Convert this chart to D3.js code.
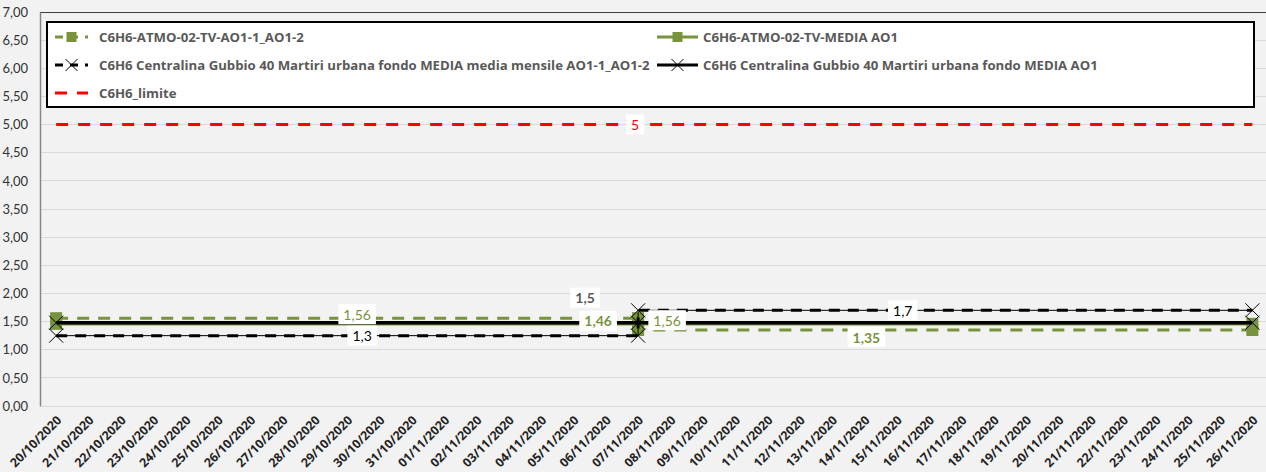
<!DOCTYPE html>
<html><head><meta charset="utf-8">
<script src="https://cdn.jsdelivr.net/npm/d3@7/dist/d3.min.js"></script>
<style>
html,body{margin:0;padding:0;background:#f2f2f2;overflow:hidden;}
svg{display:block;font-family:Lato, "Open Sans", sans-serif;}
</style></head>
<body>
<svg id="chart" width="1266" height="472"></svg>
<script>
// ---------- DATA ----------
const categories = ["20/10/2020","21/10/2020","22/10/2020","23/10/2020","24/10/2020","25/10/2020","26/10/2020","27/10/2020","28/10/2020","29/10/2020","30/10/2020","31/10/2020","01/11/2020","02/11/2020","03/11/2020","04/11/2020","05/11/2020","06/11/2020","07/11/2020","08/11/2020","09/11/2020","10/11/2020","11/11/2020","12/11/2020","13/11/2020","14/11/2020","15/11/2020","16/11/2020","17/11/2020","18/11/2020","19/11/2020","20/11/2020","21/11/2020","22/11/2020","23/11/2020","24/11/2020","25/11/2020","26/11/2020"];
const yTicks = [0,0.5,1,1.5,2,2.5,3,3.5,4,4.5,5,5.5,6,6.5,7];

const seriesNames = [
  "C6H6-ATMO-02-TV-AO1-1_AO1-2",
  "C6H6-ATMO-02-TV-MEDIA AO1",
  "C6H6 Centralina Gubbio 40 Martiri urbana fondo MEDIA media mensile AO1-1_AO1-2",
  "C6H6 Centralina Gubbio 40 Martiri urbana fondo MEDIA AO1",
  "C6H6_limite"
];
const ao1Dates   = ["20/10/2020","07/11/2020","07/11/2020","26/11/2020"];
const ao1Values  = [1.56, 1.56, 1.35, 1.35];
const mediaDates = ["20/10/2020","07/11/2020","26/11/2020"];
const mediaValues= [1.46, 1.46, 1.46];
const gubMonthDates  = ["20/10/2020","07/11/2020","07/11/2020","26/11/2020"];
const gubMonthValues = [1.25, 1.25, 1.70, 1.70];
const gubMediaDates  = ["20/10/2020","07/11/2020","26/11/2020"];
const gubMediaValues = [1.48, 1.48, 1.48];
const limitDates  = ["20/10/2020","26/11/2020"];
const limitValues = [5, 5];

const labelTexts  = ["1,56","1,3","1,5","1,46","1,56","1,7","1,35","5"];
const labelDates  = ["29/10/2020","29/10/2020","07/11/2020","07/11/2020","07/11/2020","15/11/2020","14/11/2020","07/11/2020"];
const labelValues = [1.56, 1.25, 1.48, 1.46, 1.56, 1.70, 1.35, 5];

// ---------- STYLE ----------
const GREEN = "#77933c", RED = "#ff0000", BLACK = "#000000", TXT = "#595959";
const labelOffsets = [[10,-4],[15,0],[-53,-25],[-40,-3],[29,2],[6,0],[2,7],[-3,0]];
const labelBold = [false,false,true,true,false,false,true,false];
const labelColor = [GREEN,"#000",TXT,GREEN,GREEN,"#000",GREEN,RED];

const svg = d3.select("#chart");
const W = 1266, H = 472;
const plotL = 40, plotTop = 12, plotBot = 406;
const bandW = 32.33;

const x = d3.scaleBand().domain(categories).range([plotL, plotL + bandW*categories.length]).padding(0);
const xc = d => x(d) + x.bandwidth()/2;
const y = d3.scaleLinear().domain([0,7]).range([plotBot, plotTop]);

// gridlines
svg.append("g").selectAll("line").data(yTicks).join("line")
  .attr("x1", plotL).attr("x2", W)
  .attr("y1", d => y(d)).attr("y2", d => y(d))
  .attr("stroke", d => d === 7 ? "#404040" : "#d9d9d9")
  .attr("stroke-width", 1)
  .attr("shape-rendering","crispEdges");

// y axis
const yAxis = d3.axisLeft(y).tickValues(yTicks).tickSize(0).tickPadding(12)
  .tickFormat(d => d3.format(".2f")(d).replace(".", ","));
const gy = svg.append("g").attr("transform", `translate(${plotL},0)`).call(yAxis);
gy.select(".domain").attr("stroke", "#868686").attr("stroke-width", 1.5);
gy.selectAll("text").attr("font-size", 13).attr("fill", "#333").attr("font-family","Lato, sans-serif");

// x axis
const xAxis = d3.axisBottom(x).tickSize(0).tickFormat(d => d);
const gx = svg.append("g").attr("transform", `translate(0,${plotBot})`).call(xAxis);
gx.select(".domain").attr("stroke", "#d9d9d9");
gx.selectAll("text")
  .attr("font-size", 12.3).attr("font-weight", "bold").attr("fill", "#222")
  .attr("font-family", "'Open Sans', sans-serif")
  .attr("text-anchor", "end")
  .attr("transform", "translate(6,15) rotate(-45)")
  .attr("dy", "0").attr("y", 0).attr("x", 0);

// series
const pts = (ds, vs) => ds.map((d,i) => [xc(d), y(vs[i])]);
const line = d3.line();

function drawLine(ds, vs, color, width, dash) {
  svg.append("path").attr("d", line(pts(ds, vs)))
    .attr("fill","none").attr("stroke", color).attr("stroke-width", width)
    .attr("stroke-dasharray", dash || null);
}
function drawSquares(ds, vs, color) {
  svg.append("g").selectAll("rect").data(pts(ds, vs)).join("rect")
    .attr("x", p => p[0]-6).attr("y", p => p[1]-6).attr("width", 12).attr("height", 12)
    .attr("fill", color);
}
function drawX(ds, vs) {
  const g = svg.append("g");
  pts(ds, vs).forEach(p => {
    g.append("path").attr("d", `M${p[0]-7},${p[1]-7}L${p[0]+7},${p[1]+7}M${p[0]-7},${p[1]+7}L${p[0]+7},${p[1]-7}`)
      .attr("stroke", BLACK).attr("stroke-width", 1);
  });
}

drawLine(ao1Dates, ao1Values, GREEN, 3, "12,9");
drawSquares(ao1Dates, ao1Values, GREEN);
drawLine(mediaDates, mediaValues, GREEN, 3.5);
drawSquares(mediaDates, mediaValues, GREEN);
drawLine(gubMonthDates, gubMonthValues, BLACK, 1);
drawLine(gubMonthDates, gubMonthValues, BLACK, 3, "11,8");
drawX(gubMonthDates, gubMonthValues);
drawLine(gubMediaDates, gubMediaValues, BLACK, 3.5);
drawX(gubMediaDates, gubMediaValues);
drawLine(limitDates, limitValues, RED, 3, "12,10");

// data labels
labelTexts.forEach((t, i) => {
  const cx = xc(labelDates[i]) + labelOffsets[i][0];
  const cy = y(labelValues[i]) + labelOffsets[i][1];
  const g = svg.append("g");
  const txt = g.append("text").attr("x", cx).attr("y", cy)
    .attr("text-anchor","middle").attr("dominant-baseline","central")
    .attr("font-size", 14).attr("font-weight", labelBold[i] ? "bold" : "normal")
    .attr("fill", labelColor[i]).text(t);
  const bb = txt.node().getBBox();
  g.insert("rect", "text").attr("x", bb.x-5).attr("y", cy-10).attr("width", bb.width+10).attr("height", 20).attr("fill","#fff");
});

// legend
const lg = svg.append("g");
lg.append("rect").attr("x", 47).attr("y", 22).attr("width", 1207).attr("height", 85)
  .attr("fill","#fff").attr("stroke","#000").attr("stroke-width", 2);
const legendItems = [
  {name: seriesNames[0], col: 0, row: 0, color: GREEN, dash: "8,7", marker: "sq"},
  {name: seriesNames[1], col: 1, row: 0, color: GREEN, dash: null, marker: "sq"},
  {name: seriesNames[2], col: 0, row: 1, color: BLACK, dash: "8,7", marker: "x"},
  {name: seriesNames[3], col: 1, row: 1, color: BLACK, dash: null, marker: "x"},
  {name: seriesNames[4], col: 0, row: 2, color: RED, dash: "12,10", marker: null}
];
const colX = [55, 657], rowY = [37, 65, 93];
legendItems.forEach(it => {
  const x0 = colX[it.col], yy = rowY[it.row];
  const len = it.col === 0 ? 33 : 41;
  lg.append("line").attr("x1", x0).attr("x2", x0+len).attr("y1", yy).attr("y2", yy)
    .attr("stroke", it.color).attr("stroke-width", 3).attr("stroke-dasharray", it.dash);
  const mx = x0 + len/2;
  if (it.marker === "sq") lg.append("rect").attr("x", mx-5).attr("y", yy-5).attr("width", 10).attr("height", 10).attr("fill", it.color);
  if (it.marker === "x") lg.append("path").attr("d", `M${mx-6},${yy-6}L${mx+6},${yy+6}M${mx-6},${yy+6}L${mx+6},${yy-6}`).attr("stroke","#000").attr("stroke-width",1);
  lg.append("text").attr("x", it.col === 0 ? 99 : 703).attr("y", yy)
    .attr("dominant-baseline","central").attr("font-size", 13.2).attr("font-weight","bold")
    .attr("font-family", "'Open Sans', sans-serif")
    .attr("fill", TXT).text(it.name);
});
</script>
</body></html>
